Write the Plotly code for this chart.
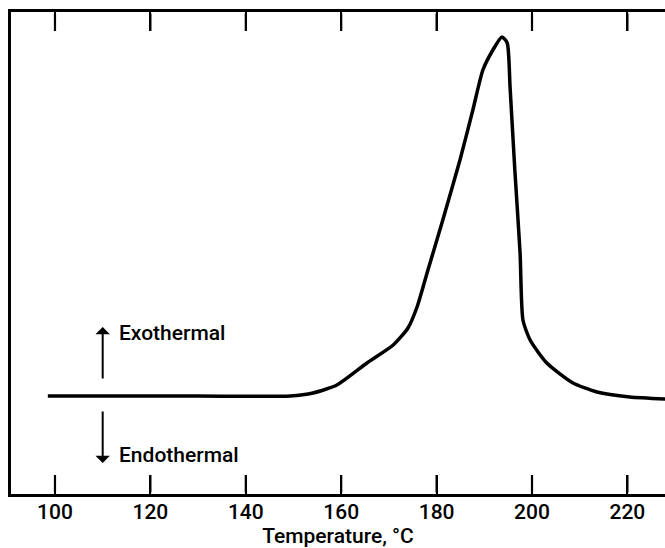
import plotly.graph_objects as go

# Data (temperature in °C, signal in arbitrary units, 0 = baseline)
temperature = [98.5, 110, 130, 149.3, 154.1, 159.1, 165.4, 170.9, 174.0, 175.9, 178.0,
               181.3, 184.9, 187.6, 189.7, 191.8, 193.7, 194.8, 195.4, 196.4, 197.5,
               198.1, 199.6, 203.1, 208.6, 213.6, 220.5, 227.9]
signal = [0, 0, 0, 0, 3, 11, 33, 51, 68, 89, 123,
          176, 236, 286, 326, 346, 359, 353, 309, 226, 143,
          76, 56, 33, 13, 4, -1, -3]
tick_values = [100, 120, 140, 160, 180, 200, 220]
tick_labels = ["100", "120", "140", "160", "180", "200", "220"]

FONT = "Roboto, Liberation Sans, Arial, sans-serif"
TXT = dict(family=FONT, size=21, color="black", weight=500)
Y_MIN, Y_MAX = -98, 384
TICK_LEN = 19  # in signal units (1 unit ~ 1 px here)

fig = go.Figure()
fig.add_trace(go.Scatter(
    x=temperature, y=signal, mode="lines",
    line=dict(color="black", width=3.5, shape="spline", smoothing=0.6),
    hoverinfo="skip", showlegend=False,
))

# Inward tick marks on the bottom and top frame, drawn as head-less annotation arrows
for tv in tick_values:
    fig.add_annotation(x=tv, y=Y_MIN + TICK_LEN, ax=tv, ay=Y_MIN, xref="x", yref="y",
                       axref="x", ayref="y", showarrow=True, arrowhead=0, arrowwidth=2.2,
                       arrowcolor="black", text="", standoff=0, startstandoff=0)
    fig.add_annotation(x=tv, y=Y_MAX - TICK_LEN, ax=tv, ay=Y_MAX, xref="x", yref="y",
                       axref="x", ayref="y", showarrow=True, arrowhead=0, arrowwidth=2.2,
                       arrowcolor="black", text="", standoff=0, startstandoff=0)

# Direction arrows
fig.add_annotation(x=110, y=69, ax=110, ay=16, xref="x", yref="y", axref="x", ayref="y",
                   showarrow=True, arrowhead=1, arrowsize=1.2, arrowwidth=2, arrowcolor="black", text="")
fig.add_annotation(x=110, y=-67, ax=110, ay=-14, xref="x", yref="y", axref="x", ayref="y",
                   showarrow=True, arrowhead=1, arrowsize=1.2, arrowwidth=2, arrowcolor="black", text="")
fig.add_annotation(x=113, y=63, xref="x", yref="y", text="Exothermal", showarrow=False,
                   xanchor="left", yanchor="middle", font=TXT)
fig.add_annotation(x=113, y=-59, xref="x", yref="y", text="Endothermal", showarrow=False,
                   xanchor="left", yanchor="middle", font=TXT)

fig.update_layout(
    width=665, height=548,
    margin=dict(l=11, r=0, t=12, b=54),
    paper_bgcolor="white", plot_bgcolor="white",
    font=dict(family=FONT, color="black"),
    hovermode=False,
    xaxis=dict(
        range=[90.78, 227.88], tickvals=tick_values, ticktext=tick_labels,
        ticks="inside", ticklen=19, tickwidth=2, tickcolor="black",
        showline=True, linecolor="black", linewidth=2.5, mirror="ticks",
        showgrid=False, zeroline=False, automargin=False,
        tickfont=TXT, ticklabelstandoff=-3,
        title=dict(text="Temperature, °C", font=TXT, standoff=8),
    ),
    yaxis=dict(
        range=[Y_MIN, Y_MAX], showticklabels=False, ticks="",
        showline=True, linecolor="black", linewidth=2.5, mirror=False,
        showgrid=False, zeroline=False, automargin=False,
    ),
)

# Remove the default 8 px page margin so the figure fills the window exactly.
fig.write_html("out.html", config={"displayModeBar": False},
               post_script="document.body.style.margin='0';document.body.style.overflow='hidden';")
